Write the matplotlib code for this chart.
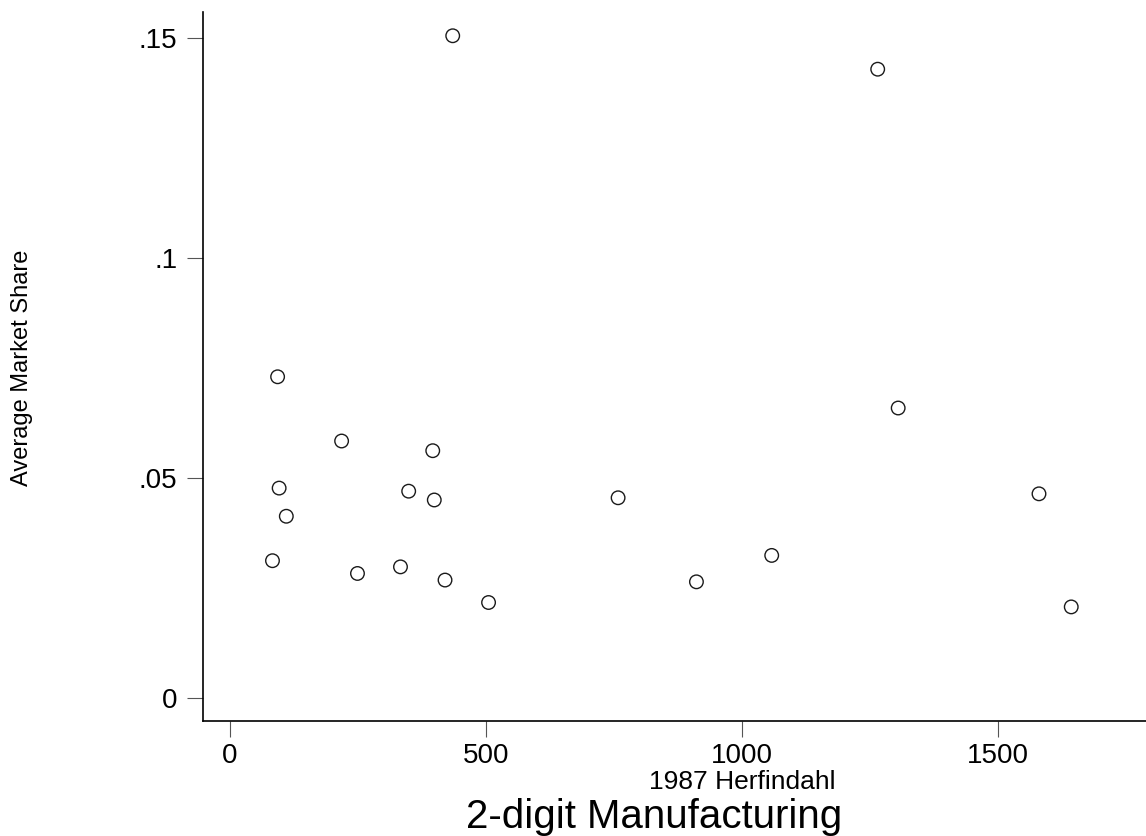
import matplotlib
matplotlib.use("Agg")
import matplotlib.pyplot as plt

# 1987 Herfindahl index vs average market share, 2-digit manufacturing
herfindahl = [435, 1265, 1305, 93, 218, 396, 96, 349, 399, 110,
              83, 249, 333, 420, 505, 758, 911, 1058, 1580, 1643]
market_share = [0.1505, 0.1429, 0.0659, 0.0730, 0.0584, 0.0562, 0.0477, 0.0470, 0.0450, 0.0413,
                0.0312, 0.0283, 0.0298, 0.0268, 0.0217, 0.0455, 0.0264, 0.0324, 0.0464, 0.0207]

x_ticks = [0, 500, 1000, 1500]
x_tick_labels = ["0", "500", "1000", "1500"]
y_ticks = [0, 0.05, 0.1, 0.15]
y_tick_labels = ["0", ".05", ".1", ".15"]

plt.rcParams['font.family'] = ['Liberation Sans', 'DejaVu Sans']

fig = plt.figure(figsize=(11.46, 8.36), dpi=100)
ax = fig.add_axes([203 / 1146, 115 / 836, 943 / 1146, 709 / 836])

ax.scatter(herfindahl, market_share, s=95, facecolors='none',
           edgecolors='#1a1a1a', linewidths=1.0, zorder=3)

ax.set_xlim(-52.7, 1789)
ax.set_ylim(-0.00523, 0.1559)

ax.set_xticks(x_ticks)
ax.set_xticklabels(x_tick_labels)
ax.set_yticks(y_ticks)
ax.set_yticklabels(y_tick_labels)

for side in ['top', 'right']:
    ax.spines[side].set_visible(False)
for side in ['left', 'bottom']:
    ax.spines[side].set_linewidth(1.2)
    ax.spines[side].set_color('black')

ax.tick_params(axis='both', direction='out', length=11.5, width=0.8,
               color='#555555', labelsize=20)
ax.tick_params(axis='x', pad=4)
ax.tick_params(axis='y', pad=7)

# axis titles placed like the original layout
fig.text(742 / 1146, 1 - 789 / 836, "1987 Herfindahl", fontsize=19,
         ha='center', va='baseline')
fig.text(654 / 1146, 1 - 828 / 836, "2-digit Manufacturing", fontsize=29,
         ha='center', va='baseline')
fig.text(22 / 1146, 1 - 368 / 836, "Average Market Share", fontsize=17,
         rotation=90, ha='center', va='center')

fig.savefig("out.png", dpi=100, facecolor='white')
